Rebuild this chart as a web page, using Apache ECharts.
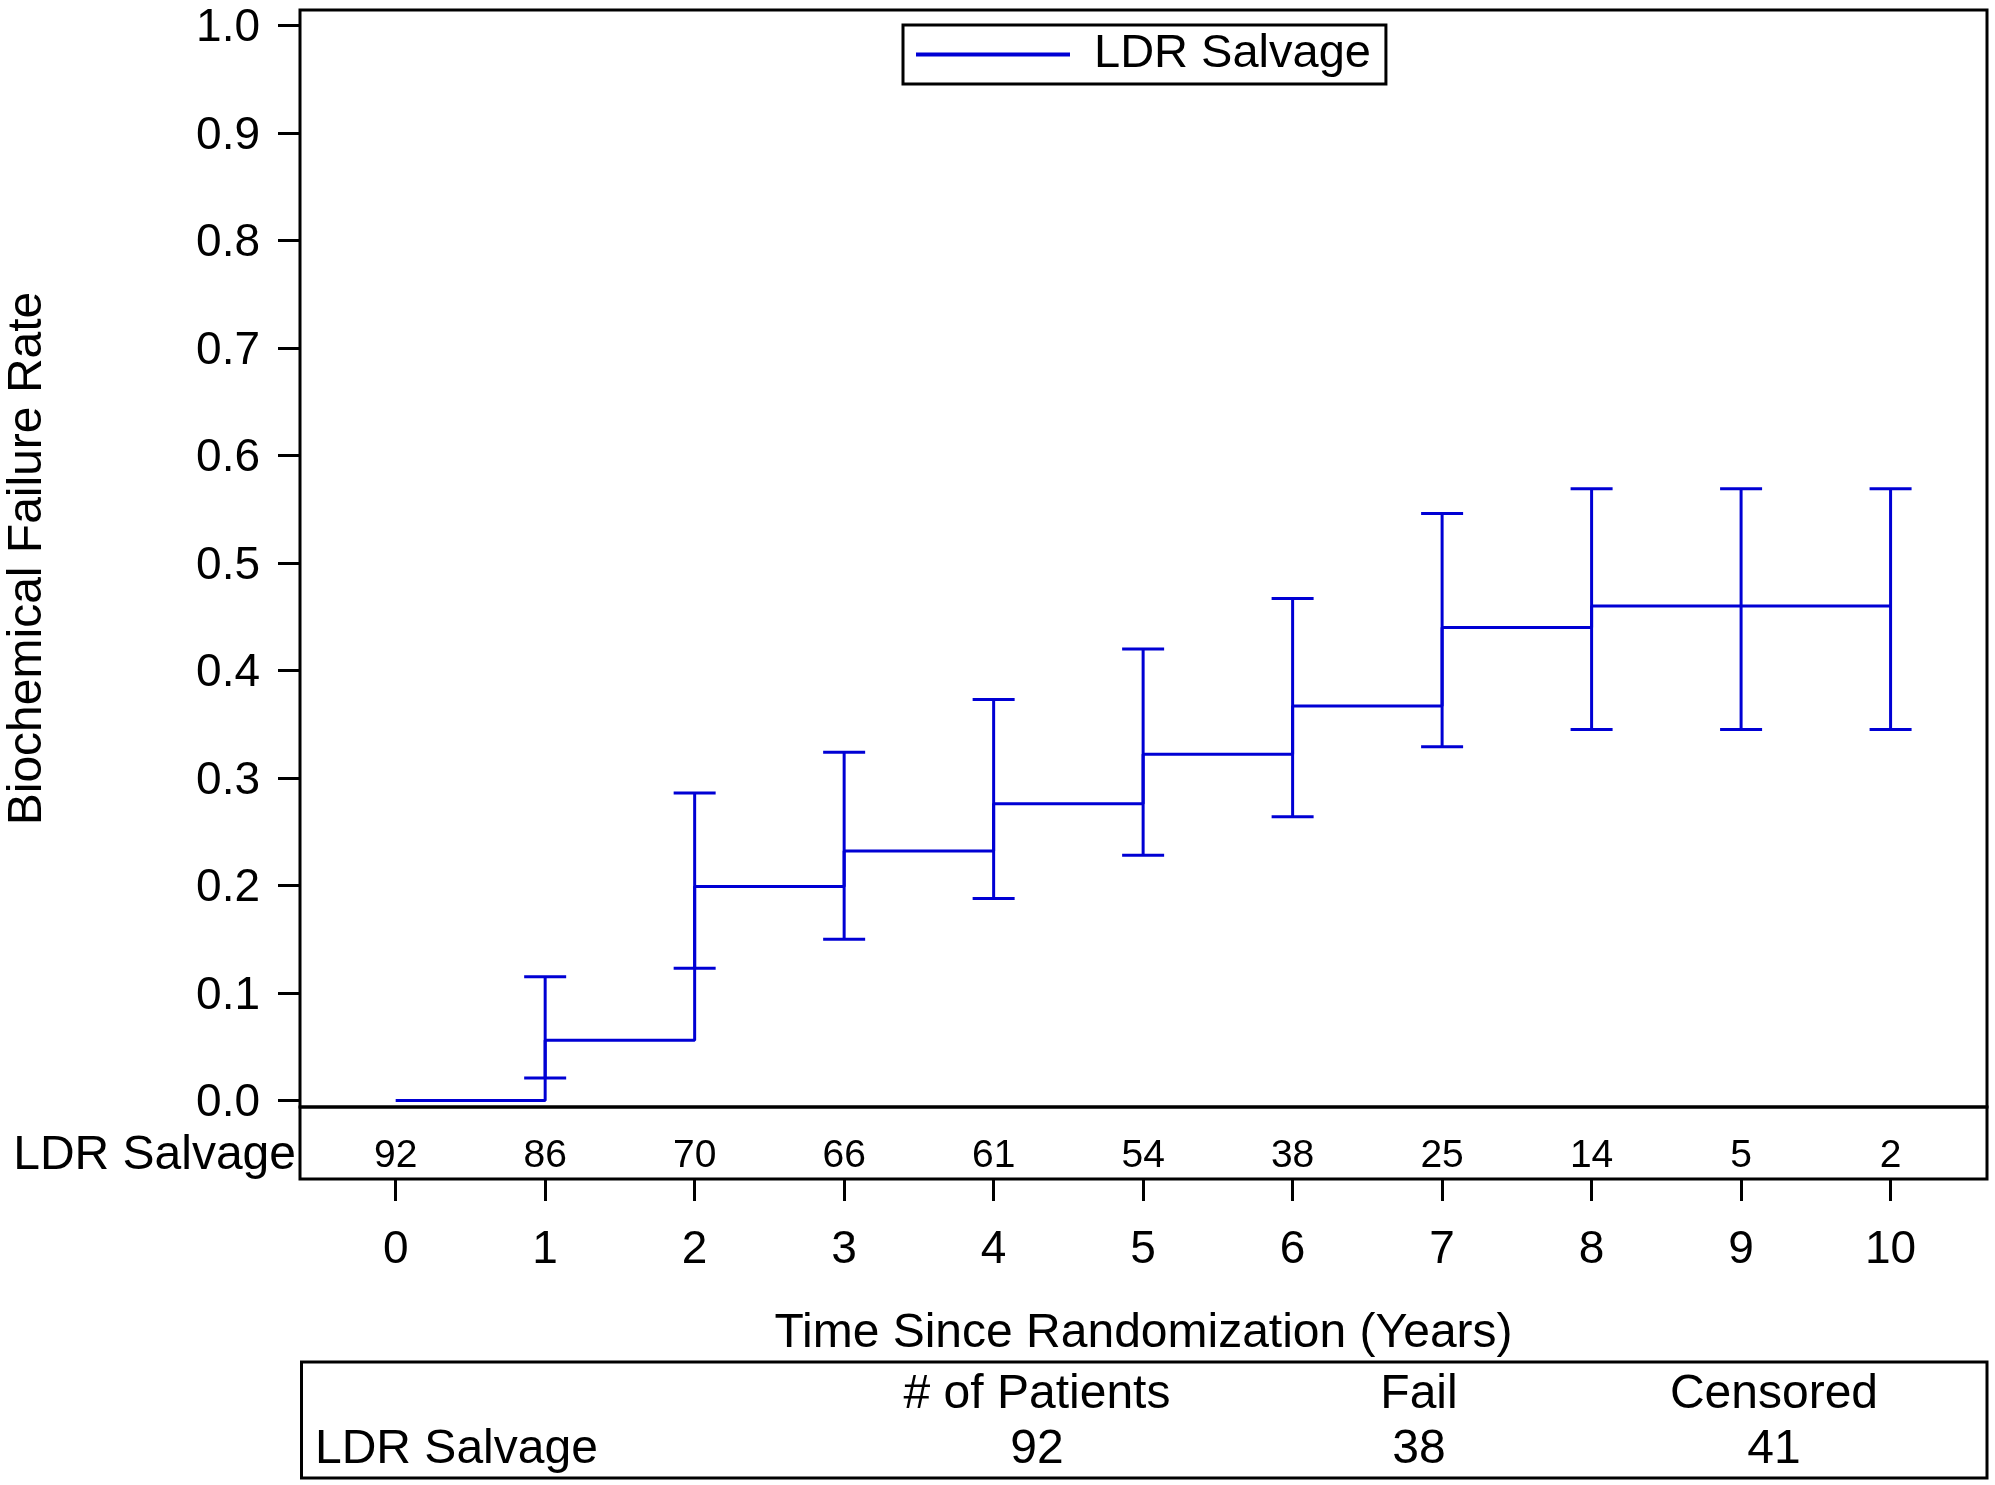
<!DOCTYPE html>
<html><head><meta charset="utf-8">
<script src="https://cdn.jsdelivr.net/npm/echarts@6/dist/echarts.min.js"></script>
<style>html,body{margin:0;padding:0;background:#fff}#c{width:1995px;height:1485px}</style>
</head><body><div id="c"></div>
<script>
// ---- data ----
const years = [0, 1, 2, 3, 4, 5, 6, 7, 8, 9, 10];
const failureRate = [0, 0.056, 0.199, 0.232, 0.276, 0.322, 0.367, 0.440, 0.460, 0.460, 0.460];
const ciLower = [null, 0.021, 0.123, 0.150, 0.188, 0.228, 0.264, 0.329, 0.345, 0.345, 0.345];
const ciUpper = [null, 0.115, 0.286, 0.324, 0.373, 0.420, 0.467, 0.546, 0.569, 0.569, 0.569];
const atRisk = [92, 86, 70, 66, 61, 54, 38, 25, 14, 5, 2];
const yTicks = [0, 0.1, 0.2, 0.3, 0.4, 0.5, 0.6, 0.7, 0.8, 0.9, 1.0];
const xTicks = [0, 1, 2, 3, 4, 5, 6, 7, 8, 9, 10];
const groupName = 'LDR Salvage';
const summaryHeaders = ['# of Patients', 'Fail', 'Censored'];
const summaryValues = [92, 38, 41];
const xTitle = 'Time Since Randomization (Years)';
const yTitle = 'Biochemical Failure Rate';

// ---- style ----
const FONT = '"Liberation Sans", Arial, sans-serif';
const BLUE = '#0000D4';
const colX = [1037, 1419, 1774];

const chart = echarts.init(document.getElementById('c'), null, {renderer: 'canvas'});

const graphic = [
  {type: 'rect', shape: {x: 301.5, y: 1362, width: 1685.5, height: 116},
   style: {fill: 'none', stroke: '#000', lineWidth: 3}},
  {type: 'text', x: 315, y: 1450, style: {text: groupName, fontSize: 48, fontFamily: FONT, fill: '#000', align: 'left', verticalAlign: 'middle'}}
];
summaryHeaders.forEach((h, i) => {
  graphic.push({type: 'text', x: colX[i], y: 1395, style: {text: h, fontSize: 48, fontFamily: FONT, fill: '#000', align: 'center', verticalAlign: 'middle'}});
  graphic.push({type: 'text', x: colX[i], y: 1450, style: {text: String(summaryValues[i]), fontSize: 48, fontFamily: FONT, fill: '#000', align: 'center', verticalAlign: 'middle'}});
});

const option = {
  animation: false,
  backgroundColor: '#fff',
  textStyle: {fontFamily: FONT, color: '#000'},
  grid: [
    {left: 300, top: 10, width: 1687, height: 1097, show: true, borderColor: '#000', borderWidth: 3, outerBoundsMode: 'none'},
    {left: 300, top: 1107, width: 1687, height: 72, show: true, borderColor: '#000', borderWidth: 3, outerBoundsMode: 'none'}
  ],
  xAxis: [
    {gridIndex: 0, type: 'value', min: -0.64, max: 10.645, show: false},
    {gridIndex: 1, type: 'value', min: -0.64, max: 10.645, position: 'bottom',
     axisLine: {show: false, onZero: false}, splitLine: {show: false},
     axisTick: {show: true, inside: false, length: 22, lineStyle: {color: '#000', width: 3}, customValues: xTicks},
     axisLabel: {show: true, margin: 48, fontSize: 46, color: '#000', fontFamily: FONT, customValues: xTicks},
     name: xTitle, nameLocation: 'middle', nameGap: 131,
     nameTextStyle: {fontSize: 48, color: '#000', fontFamily: FONT}}
  ],
  yAxis: [
    {gridIndex: 0, type: 'value', min: -0.00605, max: 1.01432,
     axisLine: {show: false, onZero: false}, splitLine: {show: false},
     axisTick: {show: true, inside: false, length: 22, lineStyle: {color: '#000', width: 3}, customValues: yTicks},
     axisLabel: {margin: 40, color: '#000', customValues: yTicks,
       formatter: v => '{a|' + v.toFixed(1) + '}',
       rich: {a: {fontSize: 46, fontFamily: FONT, color: '#000', padding: [6, 0, 0, 0]}}},
     name: yTitle, nameLocation: 'middle', nameRotate: 90, nameGap: 248,
     nameTextStyle: {fontSize: 48, color: '#000', fontFamily: FONT}},
    {gridIndex: 1, type: 'category', data: [groupName],
     axisLine: {show: false, onZero: false}, axisTick: {show: false}, splitLine: {show: false},
     axisLabel: {margin: 4, color: '#000',
       formatter: v => '{a|' + v + '}',
       rich: {a: {fontSize: 48, fontFamily: FONT, color: '#000', padding: [26, 0, 0, 0]}}}}
  ],
  legend: {
    left: 903, top: 25, orient: 'horizontal',
    padding: [6, 15, 6, 13], borderColor: '#000', borderWidth: 3,
    itemWidth: 154, itemHeight: 4, icon: 'rect',
    textStyle: {fontSize: 47, color: '#000', fontFamily: FONT, padding: [0, 0, 0, 19]},
    data: [{name: groupName, itemStyle: {color: BLUE}}]
  },
  series: [
    {type: 'line', name: groupName, xAxisIndex: 0, yAxisIndex: 0, step: 'end',
     data: years.map((t, i) => [t, failureRate[i]]),
     showSymbol: false, symbol: 'none',
     lineStyle: {color: BLUE, width: 3}, itemStyle: {color: BLUE}},
    {type: 'custom', name: 'ci', xAxisIndex: 0, yAxisIndex: 0,
     data: years.map((t, i) => [t, ciLower[i], ciUpper[i]]).filter(d => d[1] != null),
     renderItem: function (params, api) {
       const x = api.value(0);
       const lo = api.coord([x, api.value(1)]);
       const hi = api.coord([x, api.value(2)]);
       const hw = 21;
       const style = {stroke: BLUE, lineWidth: 3};
       return {type: 'group', children: [
         {type: 'line', shape: {x1: lo[0], y1: lo[1], x2: hi[0], y2: hi[1]}, style: style},
         {type: 'line', shape: {x1: lo[0] - hw, y1: lo[1], x2: lo[0] + hw, y2: lo[1]}, style: style},
         {type: 'line', shape: {x1: hi[0] - hw, y1: hi[1], x2: hi[0] + hw, y2: hi[1]}, style: style}
       ]};
     }},
    {type: 'custom', name: 'atrisk', xAxisIndex: 1, yAxisIndex: 1,
     data: years.map((t, i) => [t, 0, atRisk[i]]),
     renderItem: function (params, api) {
       const p = api.coord([api.value(0), 0]);
       return {type: 'text', x: p[0], y: p[1] + 13,
         style: {text: String(api.value(2)), fontSize: 39, fontFamily: FONT, fill: '#000', align: 'center', verticalAlign: 'middle'}};
     }}
  ],
  graphic: graphic
};
chart.setOption(option);
</script></body></html>
